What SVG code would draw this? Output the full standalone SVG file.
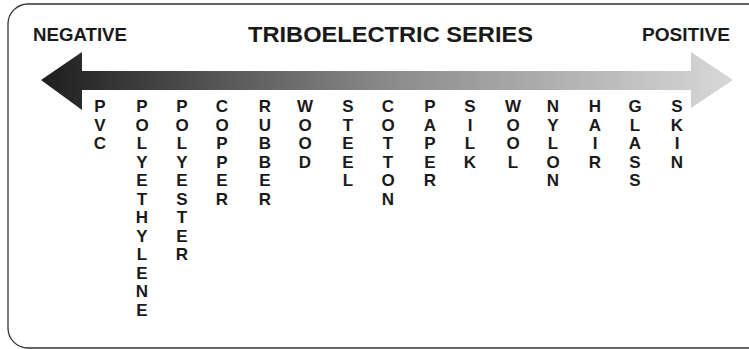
<svg xmlns="http://www.w3.org/2000/svg" width="749" height="349" viewBox="0 0 749 349">
<style>
text{font-family:"Liberation Sans","DejaVu Sans",sans-serif;font-weight:bold;fill:#1a1a1a}
.hd{font-size:18px}
.ti{font-size:22px}
.col{font-size:17px;text-anchor:middle}
</style>
<defs>
<linearGradient id="g" x1="41" y1="0" x2="733" y2="0" gradientUnits="userSpaceOnUse">
<stop offset="0" stop-color="#1e1e1e"/>
<stop offset="0.5" stop-color="#8a8a8a"/>
<stop offset="1" stop-color="#d8d8d8"/>
</linearGradient>
</defs>
<rect x="8" y="4" width="760" height="344" rx="20" ry="20" fill="#fff" stroke="#333" stroke-width="1.3"/>
<g id="header">
<text class="hd" x="33" y="41" textLength="94" lengthAdjust="spacingAndGlyphs">NEGATIVE</text>
<text class="ti" x="248" y="42" textLength="285" lengthAdjust="spacingAndGlyphs">TRIBOELECTRIC SERIES</text>
<text class="hd" x="642" y="41" textLength="88" lengthAdjust="spacingAndGlyphs">POSITIVE</text>
</g>
<g id="connectors">
<path d="M41,80 L82,52 L82,71 L691,71 L691,52 L733,80 L691,108 L691,90 L82,90 L82,110 Z" fill="url(#g)"/>
</g>
<g id="pvc"><text class="col" x="100" y="112"><tspan x="100">P</tspan><tspan x="100" dy="18.5">V</tspan><tspan x="100" dy="18.5">C</tspan></text></g>
<g id="polyethylene"><text class="col" x="142" y="112"><tspan x="142">P</tspan><tspan x="142" dy="18.5">O</tspan><tspan x="142" dy="18.5">L</tspan><tspan x="142" dy="18.5">Y</tspan><tspan x="142" dy="18.5">E</tspan><tspan x="142" dy="18.5">T</tspan><tspan x="142" dy="18.5">H</tspan><tspan x="142" dy="18.5">Y</tspan><tspan x="142" dy="18.5">L</tspan><tspan x="142" dy="18.5">E</tspan><tspan x="142" dy="18.5">N</tspan><tspan x="142" dy="18.5">E</tspan></text></g>
<g id="polyester"><text class="col" x="182" y="112"><tspan x="182">P</tspan><tspan x="182" dy="18.5">O</tspan><tspan x="182" dy="18.5">L</tspan><tspan x="182" dy="18.5">Y</tspan><tspan x="182" dy="18.5">E</tspan><tspan x="182" dy="18.5">S</tspan><tspan x="182" dy="18.5">T</tspan><tspan x="182" dy="18.5">E</tspan><tspan x="182" dy="18.5">R</tspan></text></g>
<g id="copper"><text class="col" x="222" y="112"><tspan x="222">C</tspan><tspan x="222" dy="18.5">O</tspan><tspan x="222" dy="18.5">P</tspan><tspan x="222" dy="18.5">P</tspan><tspan x="222" dy="18.5">E</tspan><tspan x="222" dy="18.5">R</tspan></text></g>
<g id="rubber"><text class="col" x="265" y="112"><tspan x="265">R</tspan><tspan x="265" dy="18.5">U</tspan><tspan x="265" dy="18.5">B</tspan><tspan x="265" dy="18.5">B</tspan><tspan x="265" dy="18.5">E</tspan><tspan x="265" dy="18.5">R</tspan></text></g>
<g id="wood"><text class="col" x="305" y="112"><tspan x="305">W</tspan><tspan x="305" dy="18.5">O</tspan><tspan x="305" dy="18.5">O</tspan><tspan x="305" dy="18.5">D</tspan></text></g>
<g id="steel"><text class="col" x="348" y="112"><tspan x="348">S</tspan><tspan x="348" dy="18.5">T</tspan><tspan x="348" dy="18.5">E</tspan><tspan x="348" dy="18.5">E</tspan><tspan x="348" dy="18.5">L</tspan></text></g>
<g id="cotton"><text class="col" x="388" y="112"><tspan x="388">C</tspan><tspan x="388" dy="18.5">O</tspan><tspan x="388" dy="18.5">T</tspan><tspan x="388" dy="18.5">T</tspan><tspan x="388" dy="18.5">O</tspan><tspan x="388" dy="18.5">N</tspan></text></g>
<g id="paper"><text class="col" x="430" y="112"><tspan x="430">P</tspan><tspan x="430" dy="18.5">A</tspan><tspan x="430" dy="18.5">P</tspan><tspan x="430" dy="18.5">E</tspan><tspan x="430" dy="18.5">R</tspan></text></g>
<g id="silk"><text class="col" x="470" y="112"><tspan x="470">S</tspan><tspan x="470" dy="18.5">I</tspan><tspan x="470" dy="18.5">L</tspan><tspan x="470" dy="18.5">K</tspan></text></g>
<g id="wool"><text class="col" x="513" y="112"><tspan x="513">W</tspan><tspan x="513" dy="18.5">O</tspan><tspan x="513" dy="18.5">O</tspan><tspan x="513" dy="18.5">L</tspan></text></g>
<g id="nylon"><text class="col" x="553" y="112"><tspan x="553">N</tspan><tspan x="553" dy="18.5">Y</tspan><tspan x="553" dy="18.5">L</tspan><tspan x="553" dy="18.5">O</tspan><tspan x="553" dy="18.5">N</tspan></text></g>
<g id="hair"><text class="col" x="595" y="112"><tspan x="595">H</tspan><tspan x="595" dy="18.5">A</tspan><tspan x="595" dy="18.5">I</tspan><tspan x="595" dy="18.5">R</tspan></text></g>
<g id="glass"><text class="col" x="635" y="112"><tspan x="635">G</tspan><tspan x="635" dy="18.5">L</tspan><tspan x="635" dy="18.5">A</tspan><tspan x="635" dy="18.5">S</tspan><tspan x="635" dy="18.5">S</tspan></text></g>
<g id="skin"><text class="col" x="677" y="112"><tspan x="677">S</tspan><tspan x="677" dy="18.5">K</tspan><tspan x="677" dy="18.5">I</tspan><tspan x="677" dy="18.5">N</tspan></text></g>
</svg>
